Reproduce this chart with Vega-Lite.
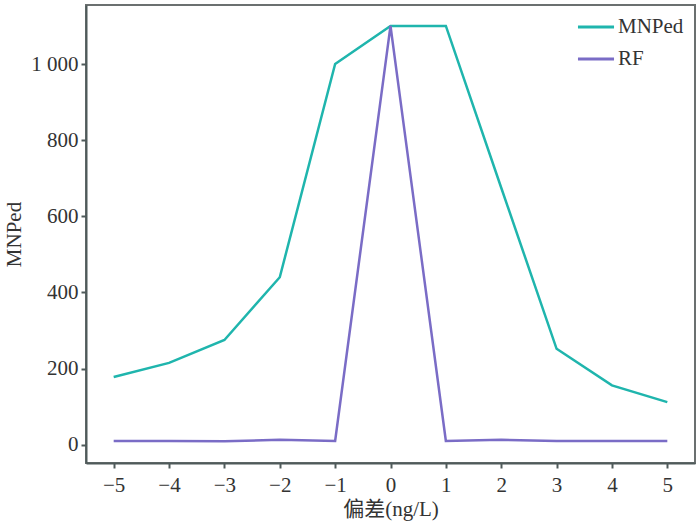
{
  "$schema": "https://vega.github.io/schema/vega-lite/v6.json",
  "autosize": "none",
  "width": 609,
  "height": 458,
  "padding": {"left": 86, "top": 5, "right": 5, "bottom": 67},
  "background": "white",
  "config": {
    "font": "Times New Roman, Liberation Serif, DejaVu Serif, serif",
    "view": {"stroke": "#6b7070", "strokeWidth": 2},
    "legend": {"labelFont": "Times New Roman, Liberation Serif, DejaVu Serif, serif"},
    "axis": {
      "grid": false,
      "domainColor": "#4f5a5a",
      "domainWidth": 2,
      "tickColor": "#4f5a5a",
      "tickWidth": 2,
      "tickSize": 5,
      "labelFont": "Times New Roman, Liberation Serif, DejaVu Serif, serif",
      "labelFontSize": 21,
      "labelColor": "#333",
      "titleFont": "Times New Roman, Liberation Serif, Noto Sans CJK SC, serif",
      "titleFontSize": 21,
      "titleFontWeight": "normal",
      "titleColor": "#333"
    }
  },
  "data": {
    "values": [
      {"x": -5, "series": "MNPed", "y": 178},
      {"x": -4, "series": "MNPed", "y": 215},
      {"x": -3, "series": "MNPed", "y": 275},
      {"x": -2, "series": "MNPed", "y": 440},
      {"x": -1, "series": "MNPed", "y": 1000},
      {"x": 0, "series": "MNPed", "y": 1100},
      {"x": 1, "series": "MNPed", "y": 1100},
      {"x": 2, "series": "MNPed", "y": 675},
      {"x": 3, "series": "MNPed", "y": 252},
      {"x": 4, "series": "MNPed", "y": 156},
      {"x": 5, "series": "MNPed", "y": 112},
      {"x": -5, "series": "RF", "y": 10},
      {"x": -4, "series": "RF", "y": 10},
      {"x": -3, "series": "RF", "y": 9},
      {"x": -2, "series": "RF", "y": 13},
      {"x": -1, "series": "RF", "y": 10},
      {"x": 0, "series": "RF", "y": 1100},
      {"x": 1, "series": "RF", "y": 10},
      {"x": 2, "series": "RF", "y": 13},
      {"x": 3, "series": "RF", "y": 10},
      {"x": 4, "series": "RF", "y": 10},
      {"x": 5, "series": "RF", "y": 10}
    ]
  },
  "mark": {"type": "line", "strokeWidth": 2.5},
  "encoding": {
    "x": {
      "field": "x",
      "type": "quantitative",
      "scale": {"domain": [-5.5, 5.5], "nice": false, "zero": false},
      "axis": {"values": [-5, -4, -3, -2, -1, 0, 1, 2, 3, 4, 5], "title": "偏差(ng/L)", "labelPadding": 6, "titlePadding": 3, "labelExpr": "replace(datum.label, '-', '−')"}
    },
    "y": {
      "field": "y",
      "type": "quantitative",
      "scale": {"domain": [-48, 1155], "nice": false},
      "axis": {"values": [0, 200, 400, 600, 800, 1000], "title": "MNPed", "labelPadding": 3, "titlePadding": 6, "labelExpr": "replace(datum.label, ',', ' ')"}
    },
    "color": {
      "field": "series",
      "type": "nominal",
      "scale": {"domain": ["MNPed", "RF"], "range": ["#1fb5ad", "#7a6cc6"]},
      "legend": {
        "title": null,
        "orient": "none",
        "legendX": 490,
        "legendY": 2,
        "symbolType": "stroke",
        "symbolSize": 1300,
        "symbolStrokeWidth": 3,
        "labelFontSize": 21,
        "labelColor": "#333",
        "labelOffset": 2,
        "rowPadding": 2
      }
    }
  }
}
